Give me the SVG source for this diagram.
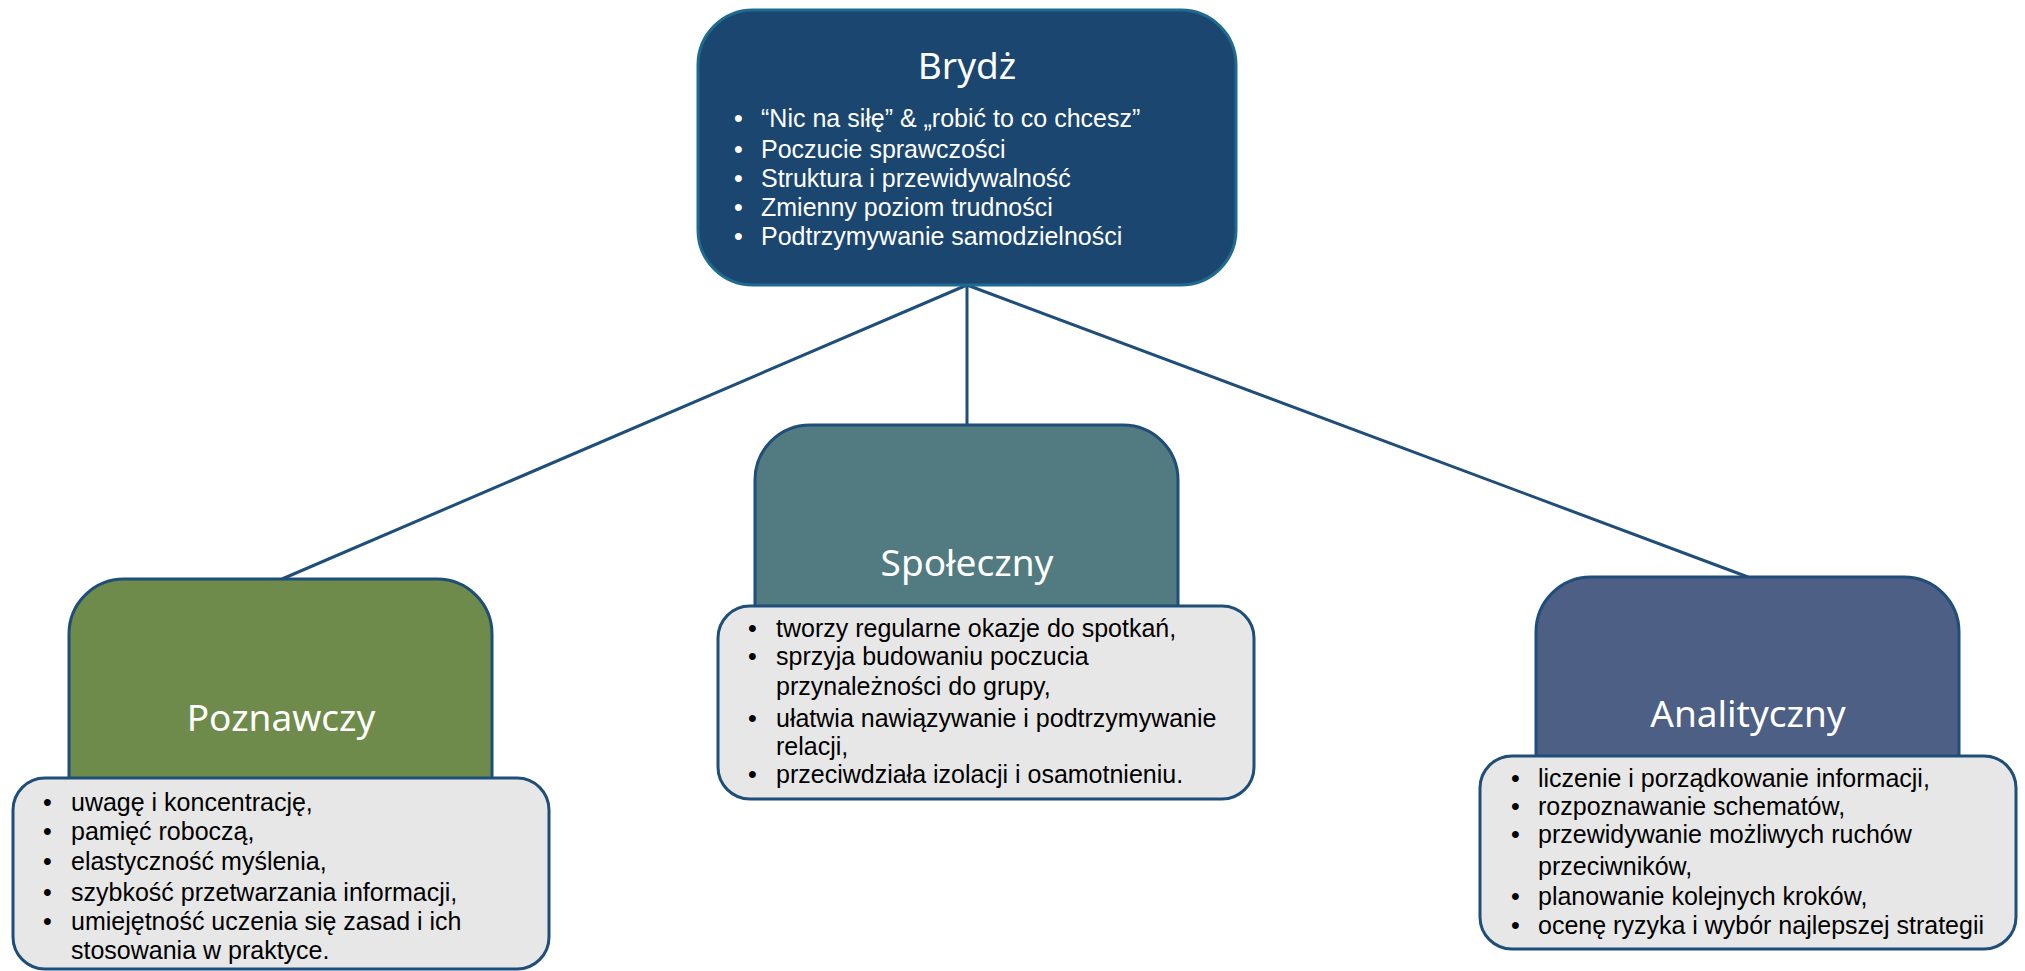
<svg xmlns="http://www.w3.org/2000/svg" width="2025" height="971" viewBox="0 0 2025 971">
  <style>
    .title { font-family: "Noto Sans", "Open Sans", sans-serif; font-size: 37px; fill: #ffffff; text-anchor: middle; }
    .wt { font-family: "Liberation Sans", Arial, sans-serif; font-size: 25px; fill: #ffffff; }
    .bt { font-family: "Liberation Sans", Arial, sans-serif; font-size: 25px; fill: #000000; }
    .conn { stroke: #1F4E79; stroke-width: 3; fill: none; }
    .head { stroke: #1F4E79; stroke-width: 3; }
    .list { fill: #E7E7E7; stroke: #1F4E79; stroke-width: 3; }
  </style>
  <rect width="2025" height="971" fill="#ffffff"/>

  <g id="connectors">
    <line class="conn" x1="967" y1="285" x2="282" y2="579"/>
    <line class="conn" x1="967" y1="285" x2="967" y2="425"/>
    <line class="conn" x1="967" y1="285" x2="1748" y2="577"/>
  </g>

  <g id="brydz">
    <rect x="698" y="10" width="538" height="275" rx="55" fill="#1B4670" stroke="#1F6B8F" stroke-width="3"/>
    <text class="title" x="967" y="79">Brydż</text>
    <g class="wt">
      <text x="734" y="127">•</text><text x="761" y="127">“Nic na siłę” &amp; „robić to co chcesz”</text>
      <text x="734" y="158">•</text><text x="761" y="158">Poczucie sprawczości</text>
      <text x="734" y="187">•</text><text x="761" y="187">Struktura i przewidywalność</text>
      <text x="734" y="216">•</text><text x="761" y="216">Zmienny poziom trudności</text>
      <text x="734" y="245">•</text><text x="761" y="245">Podtrzymywanie samodzielności</text>
    </g>
  </g>

  <g id="poznawczy">
    <rect class="head" x="69" y="579" width="423" height="300" rx="55" fill="#6F8B4B"/>
    <text class="title" x="281" y="731">Poznawczy</text>
    <rect class="list" x="13" y="778" width="536" height="191" rx="32"/>
    <g class="bt">
      <text x="43" y="811">•</text><text x="71" y="811">uwagę i koncentrację,</text>
      <text x="43" y="840">•</text><text x="71" y="840">pamięć roboczą,</text>
      <text x="43" y="870">•</text><text x="71" y="870">elastyczność myślenia,</text>
      <text x="43" y="901">•</text><text x="71" y="901">szybkość przetwarzania informacji,</text>
      <text x="43" y="930">•</text><text x="71" y="930">umiejętność uczenia się zasad i ich</text>
      <text x="71" y="959">stosowania w praktyce.</text>
    </g>
  </g>

  <g id="spoleczny">
    <rect class="head" x="755" y="425" width="423" height="300" rx="55" fill="#517B80"/>
    <text class="title" x="967" y="576">Społeczny</text>
    <rect class="list" x="718" y="606" width="536" height="193" rx="32"/>
    <g class="bt">
      <text x="748" y="637">•</text><text x="776" y="637">tworzy regularne okazje do spotkań,</text>
      <text x="748" y="665">•</text><text x="776" y="665">sprzyja budowaniu poczucia</text>
      <text x="776" y="695">przynależności do grupy,</text>
      <text x="748" y="727">•</text><text x="776" y="727">ułatwia nawiązywanie i podtrzymywanie</text>
      <text x="776" y="755">relacji,</text>
      <text x="748" y="783">•</text><text x="776" y="783">przeciwdziała izolacji i osamotnieniu.</text>
    </g>
  </g>

  <g id="analityczny">
    <rect class="head" x="1536" y="577" width="423" height="300" rx="55" fill="#4D5F85"/>
    <text class="title" x="1748" y="727">Analityczny</text>
    <rect class="list" x="1480" y="756" width="536" height="193" rx="32"/>
    <g class="bt">
      <text x="1511" y="787">•</text><text x="1538" y="787">liczenie i porządkowanie informacji,</text>
      <text x="1511" y="815">•</text><text x="1538" y="815">rozpoznawanie schematów,</text>
      <text x="1511" y="843">•</text><text x="1538" y="843">przewidywanie możliwych ruchów</text>
      <text x="1538" y="875">przeciwników,</text>
      <text x="1511" y="905">•</text><text x="1538" y="905">planowanie kolejnych kroków,</text>
      <text x="1511" y="934">•</text><text x="1538" y="934">ocenę ryzyka i wybór najlepszej strategii</text>
    </g>
  </g>
</svg>
